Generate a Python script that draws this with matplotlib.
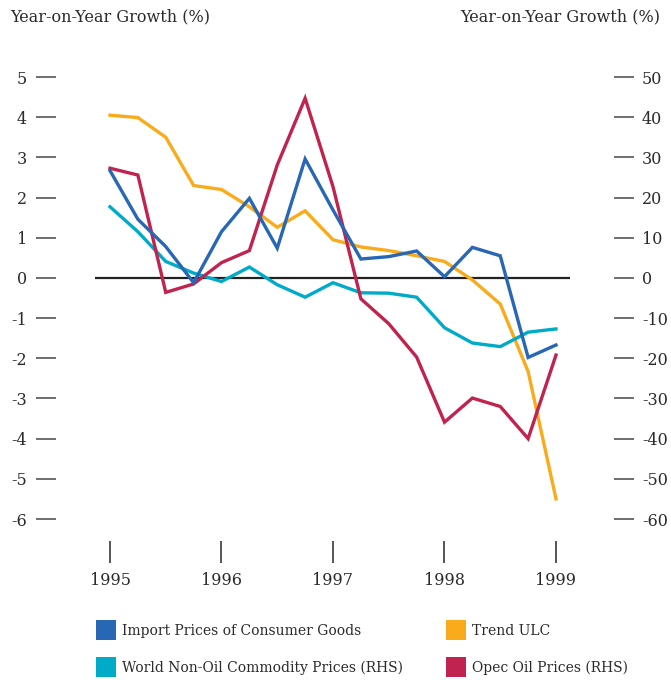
import matplotlib
matplotlib.use("Agg")
import matplotlib.pyplot as plt
from matplotlib.patches import Rectangle

plt.rcParams["font.family"] = ["DejaVu Serif"]

quarters = ["1995Q1", "1995Q2", "1995Q3", "1995Q4", "1996Q1", "1996Q2", "1996Q3", "1996Q4",
            "1997Q1", "1997Q2", "1997Q3", "1997Q4", "1998Q1", "1998Q2", "1998Q3", "1998Q4", "1999Q1"]
year_labels = ["1995", "1996", "1997", "1998", "1999"]

import_prices = [2.67, 1.46, 0.78, -0.12, 1.15, 1.98, 0.74, 2.96, 1.69, 0.47, 0.53, 0.67, 0.03, 0.76, 0.55, -1.98, -1.67]
trend_ulc = [4.05, 3.99, 3.5, 2.3, 2.2, 1.77, 1.26, 1.67, 0.95, 0.77, 0.68, 0.55, 0.41, -0.05, -0.65, -2.33, -5.5]
non_oil = [17.7, 11.5, 4.1, 1.2, -0.9, 2.7, -1.7, -4.8, -1.2, -3.7, -3.8, -4.8, -12.4, -16.2, -17.1, -13.5, -12.7]
opec_oil = [27.3, 25.6, -3.6, -1.5, 3.8, 6.8, 28.1, 44.7, 22.7, -5.2, -11.4, -19.7, -35.9, -29.9, -32.0, -40.0, -19.2]

left_ticks = [5, 4, 3, 2, 1, 0, -1, -2, -3, -4, -5, -6]
right_ticks = [50, 40, 30, 20, 10, 0, -10, -20, -30, -40, -50, -60]

c_blue = "#2767b3"
c_orange = "#f9ab1c"
c_cyan = "#00abc8"
c_red = "#c0234e"
tick_col = "#555555"
txt_col = "#2a2a2a"

W, H = 671, 683
PT = 72 / 100  # points per pixel at dpi 100
fig = plt.figure(figsize=(W / 100, H / 100), dpi=100)
x0, x1, ytop, ybot = 95, 570, 77, 519
ax = fig.add_axes([x0 / W, 1 - ybot / H, (x1 - x0) / W, (ybot - ytop) / H])
ax2 = ax.twinx()

x = list(range(len(quarters)))
px_per_q = (556 - 110) / 16
ax.set_xlim(-(110 - x0) / px_per_q, 16 + (x1 - 556) / px_per_q)
ax.set_ylim(-6, 5)
ax2.set_ylim(-60, 50)

lw = 2.4
ax.axhline(0, color="#222222", lw=1.6, zorder=1)
ax2.plot(x, non_oil, color=c_cyan, lw=lw, solid_joinstyle="miter", zorder=2)
ax.plot(x, trend_ulc, color=c_orange, lw=lw, solid_joinstyle="miter", zorder=3)
ax2.plot(x, opec_oil, color=c_red, lw=lw, solid_joinstyle="miter", zorder=3)
ax2.plot(x, [v * 10 for v in import_prices], color=c_blue, lw=lw,
         solid_joinstyle="miter", zorder=4)

fs = 11.5

for a in (ax, ax2):
    for s in a.spines.values():
        s.set_visible(False)

ax.set_yticks(left_ticks)
ax.set_yticklabels([str(t) for t in left_ticks])
ax.tick_params(axis="y", direction="out", length=20 * PT, width=1.2, color=tick_col,
               pad=9 * PT, labelsize=fs, labelcolor=txt_col)
ax.spines["left"].set_position(("outward", 39 * PT))

ax2.set_yticks(right_ticks)
ax2.set_yticklabels([str(t) for t in right_ticks])
ax2.tick_params(axis="y", direction="out", length=20 * PT, width=1.2, color=tick_col,
                pad=8 * PT, labelsize=fs, labelcolor=txt_col)
ax2.spines["right"].set_position(("outward", 44 * PT))

ax.set_xticks([0, 4, 8, 12, 16])
ax.set_xticklabels(year_labels)
ax.tick_params(axis="x", direction="out", length=22 * PT, width=1.4, color=tick_col,
               pad=9 * PT, labelsize=fs, labelcolor=txt_col)
ax.spines["bottom"].set_position(("outward", 22 * PT))

fig.text(10 / W, 1 - 17 / H, "Year-on-Year Growth (%)", fontsize=fs,
         color=txt_col, ha="left", va="center")
fig.text(660 / W, 1 - 17 / H, "Year-on-Year Growth (%)", fontsize=fs,
         color=txt_col, ha="right", va="center")

legend_items = [("Import Prices of Consumer Goods", c_blue, 96, 630),
                ("Trend ULC", c_orange, 446, 630),
                ("World Non-Oil Commodity Prices (RHS)", c_cyan, 96, 667),
                ("Opec Oil Prices (RHS)", c_red, 446, 667)]
for label, col, lx, ly in legend_items:
    fig.add_artist(Rectangle((lx / W, 1 - (ly + 10) / H), 20 / W, 20 / H, transform=fig.transFigure,
                             facecolor=col, edgecolor="none"))
    fig.text((lx + 26) / W, 1 - (ly + 1) / H, label, fontsize=10,
             color=txt_col, ha="left", va="center")

fig.savefig("out.png", dpi=100)
